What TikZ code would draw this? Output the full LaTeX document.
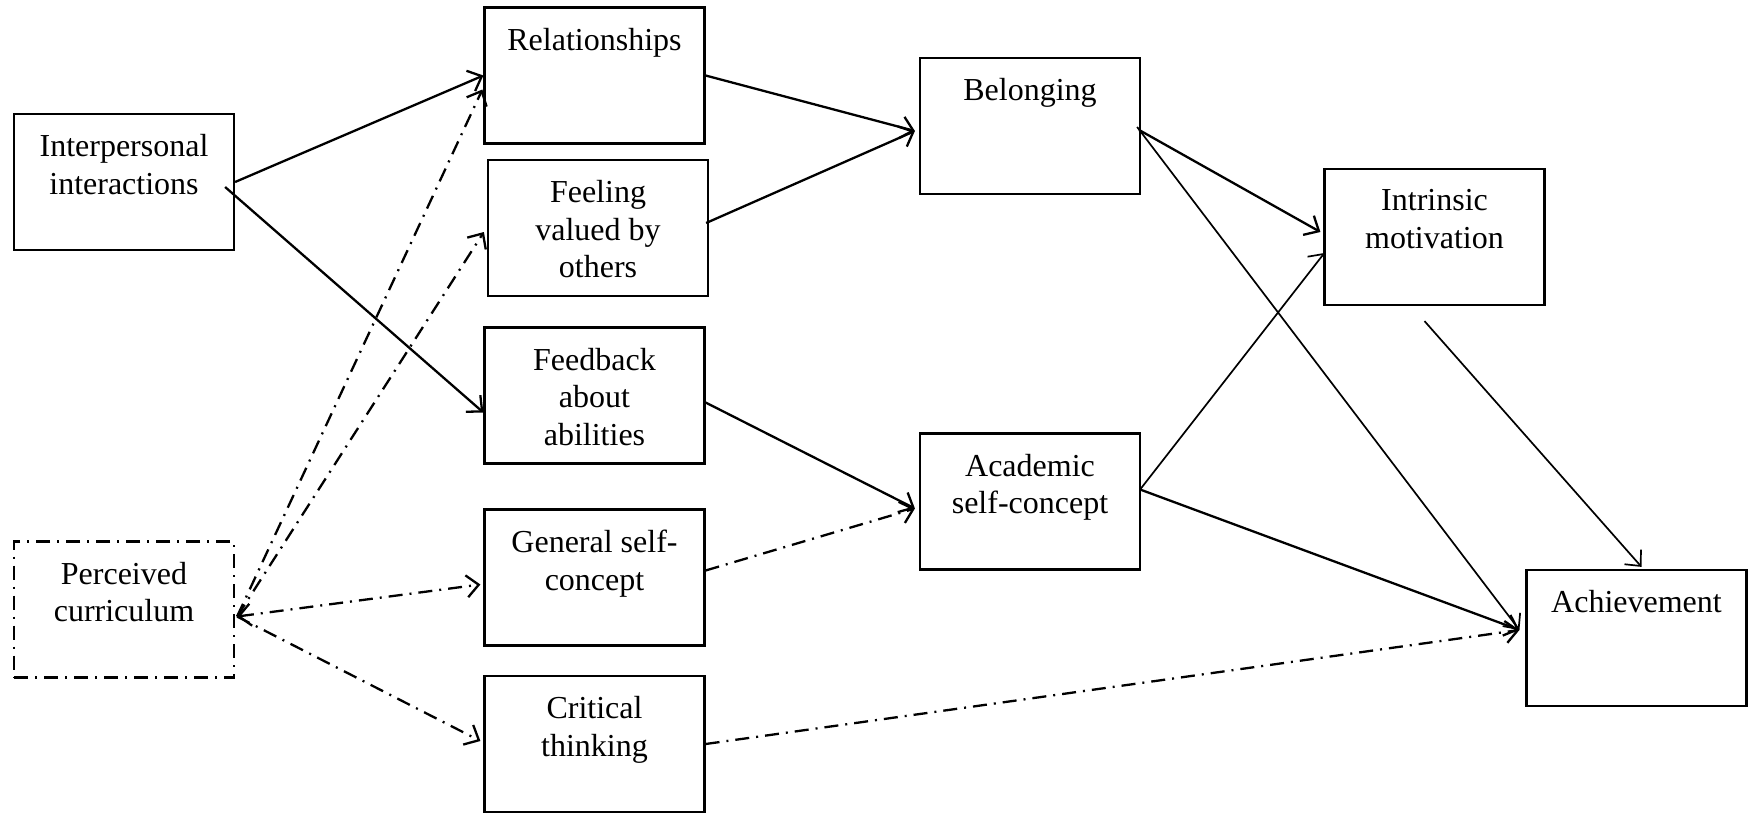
\documentclass[tikz,border=0pt]{standalone}
\usepackage{fontspec}
\setmainfont{Liberation Serif}
\usetikzlibrary{arrows.meta,calc}

\tikzset{
  box/.style={draw, line width=1.1pt, minimum width=110pt, minimum height=68pt, inner sep=0pt},
  box perc/.style={dash pattern=on 7pt off 3.5pt on 1pt off 3.5pt},
  boxtext/.style={anchor=north, align=center, inner sep=0pt, font=\fontsize{16}{18.75}\selectfont},
  link/.style={->, line width=1.15pt},
  thin link/.style={->, line width=0.85pt},
  dashdot/.style={dash pattern=on 7pt off 3.5pt on 1pt off 3.5pt},
}

\begin{document}
\begin{tikzpicture}[x=0.5pt, y=-0.5pt, >={Straight Barb[length=6pt,width=11pt]}]
\useasboundingbox (0,0) rectangle (1749,813);

% boxes
\foreach \n/\x/\y/\txt in {inter/124/182/{Interpersonal\\interactions},
    perc/124/609.5/{Perceived\\curriculum},
    rel/594.5/75.5/{Relationships},
    feel/598/228/{Feeling\\valued by\\others},
    feed/594.5/395.5/{Feedback\\about\\abilities},
    gen/594.5/577.5/{General self-\\concept},
    crit/594.5/744/{Critical\\thinking},
    bel/1030/126/{Belonging},
    acad/1030/501.5/{Academic\\self-concept},
    intr/1434.5/237/{Intrinsic\\motivation},
    ach/1636.5/638/{Achievement}}
{
  \node [box, box \n/.try] (\n) at (\x,\y) {};
  \node [boxtext] (\n-text) at ([yshift=-10.6pt]\n.north) {\txt};
}

% meeting points
\coordinate (perc-out) at ($(perc.east)+(2,7)$);
\coordinate (bel-in) at ($(bel.west)+(-4,5)$);
\coordinate (acad-in) at ($(acad.west)+(-4,7)$);
\coordinate (acad-out) at ($(acad.east)+(-1,-12)$);
\coordinate (ach-in) at ($(ach.west)+(-6,-8)$);

% solid links
\draw [link] (inter.east) -- (rel.west);
\draw [link] ($(inter.east)+(-10,5)$) -- ($(feed.west)+(0,17)$);
\draw [link] (rel.east) -- (bel-in);
\draw [link] ($(feel.east)+(-3,-5)$) -- (bel-in);
\draw [link] ($(feed.east)+(0,7)$) -- (acad-in);
\draw [link] ($(bel.east)+(-2,4)$) -- ($(intr.west)+(-3,-5)$);
\draw [thin link] ($(bel.east)+(-4,1)$) -- (ach-in);
\draw [thin link] (acad-out) -- ($(intr.west)+(1,16)$);
\draw [link] (acad-out) -- (ach-in);
\draw [thin link] ($(intr.south)+(-10,15)$) -- ($(ach.north)+(5,-2)$);

% dash-dot links
\draw [link, dashdot] (perc-out) -- ($(rel.west)+(-1,14)$);
\draw [link, dashdot] (perc-out) -- ($(feel.west)+(-3,4)$);
\draw [link, dashdot, <->] (perc-out) -- ($(gen.west)+(-3,7)$);
\draw [link, dashdot] (perc-out) -- ($(crit.west)+(-3,-3)$);
\draw [link, dashdot] ($(gen.east)+(0,-7)$) -- (acad-in);
\draw [link, dashdot] (crit.east) -- (ach-in);
\end{tikzpicture}
\end{document}
